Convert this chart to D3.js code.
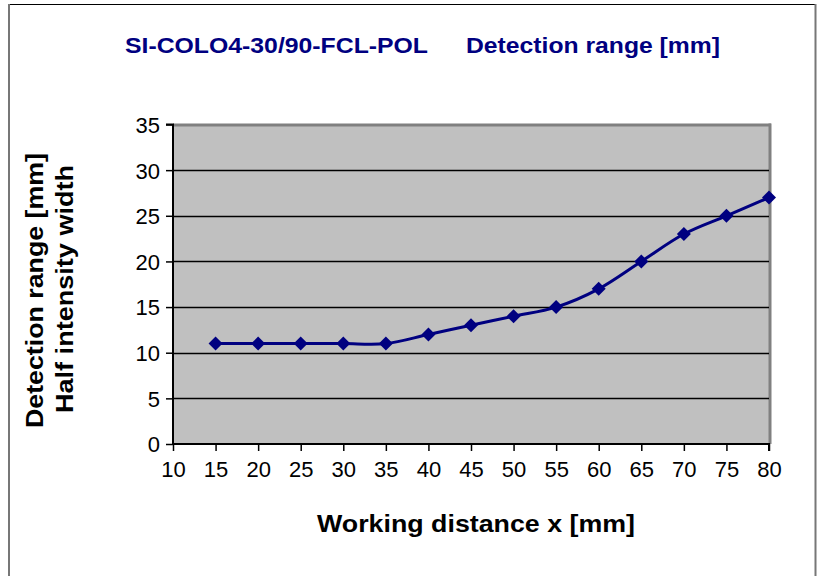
<!DOCTYPE html>
<html><head><meta charset="utf-8">
<script src="https://cdn.jsdelivr.net/npm/d3@7"></script>
<style>body{margin:0;background:#fff}svg{display:block;font-family:"Liberation Sans",Arial,sans-serif}</style>
</head><body><svg id="c" width="818" height="576"></svg>
<script>
const xValues = [15,20,25,30,35,40,45,50,55,60,65,70,75,80];
const yValues = [11,11,11,11,11,12,13,14,15,17,20,23,25,27];
const xTicks = [10,15,20,25,30,35,40,45,50,55,60,65,70,75,80];
const yTicks = [0,5,10,15,20,25,30,35];
const titleText = ["SI-COLO4-30/90-FCL-POL", "Detection range [mm]"];
const yTitle = ["Detection range [mm]", "Half intensity width"];
const xTitle = "Working distance x [mm]";

const svg = d3.select("#c");
const L=173,R=769,T=124.5,B=444;
const x = d3.scaleLinear().domain([10,80]).range([L,R]);
const y = d3.scaleLinear().domain([0,35]).range([B,T]);

// outer frame
svg.append("line").attr("x1",8).attr("x2",816).attr("y1",4.5).attr("y2",4.5).attr("stroke","#000").attr("stroke-width",1);
svg.append("line").attr("x1",9).attr("x2",9).attr("y1",4).attr("y2",576).attr("stroke","#777").attr("stroke-width",2);
svg.append("line").attr("x1",815.5).attr("x2",815.5).attr("y1",4).attr("y2",576).attr("stroke","#777").attr("stroke-width",2);

// plot area
svg.append("rect").attr("x",L).attr("y",T).attr("width",R-L).attr("height",B-T).attr("fill","#c0c0c0");
svg.append("line").attr("x1",L).attr("x2",R+2).attr("y1",T+0.5).attr("y2",T+0.5).attr("stroke","#808080").attr("stroke-width",3);
svg.append("line").attr("x1",R+1).attr("x2",R+1).attr("y1",T-1).attr("y2",B).attr("stroke","#808080").attr("stroke-width",3);

// grid
svg.append("g").selectAll("line").data(yTicks.filter(d=>d>0&&d<35)).join("line")
  .attr("x1",L).attr("x2",R).attr("y1",d=>Math.round(y(d))+0.5).attr("y2",d=>Math.round(y(d))+0.5)
  .attr("stroke","#000").attr("stroke-width",1.5);

// axes
const yAxis = d3.axisLeft(y).tickValues(yTicks).tickSize(7).tickPadding(6).tickFormat(d3.format("d"));
const gy = svg.append("g").attr("transform",`translate(${L},0)`).call(yAxis);
const xAxis = d3.axisBottom(x).tickValues(xTicks).tickSize(7).tickPadding(8).tickFormat(d3.format("d"));
const gx = svg.append("g").attr("transform",`translate(0,${B})`).call(xAxis);
[gy,gx].forEach(g=>{
  g.select(".domain").attr("stroke","#000").attr("stroke-width",2);
  g.selectAll(".tick line").attr("stroke","#000").attr("stroke-width",1.5);
  g.selectAll(".tick text").attr("fill","#000").style("font-size","22px").style("font-family","'Liberation Sans',Arial,sans-serif");
});
gy.select(".domain").attr("d",`M-7,${T}H0V${B}`);
gx.select(".domain").attr("d",`M${L},0H${R}V7`);
gx.selectAll(".tick text").attr("dy","0.82em");
gy.selectAll(".tick text").attr("dy","0.36em");

// line
const pts = xValues.map((v,i)=>[v,yValues[i]]);
const line = d3.line().x(d=>x(d[0])).y(d=>y(d[1])).curve(d3.curveCardinal.tension(0));
svg.append("path").datum(pts).attr("d",line).attr("fill","none").attr("stroke","#000080").attr("stroke-width",3);
svg.append("g").selectAll("path").data(pts).join("path")
  .attr("transform",d=>`translate(${x(d[0])},${y(d[1])})`)
  .attr("d","M0,-7L7,0L0,7L-7,0Z").attr("fill","#000080");

// titles
const tpos = [[125,303],[466,254]];
titleText.forEach((s,i)=>{
  svg.append("text").attr("x",tpos[i][0]).attr("y",52.5).attr("fill","#000080")
    .attr("textLength",tpos[i][1]).attr("lengthAdjust","spacingAndGlyphs")
    .style("font-size","22px").style("font-weight","bold").text(s);
});

const ypos = [[43,290.5,275],[73,289,248]];
yTitle.forEach((s,i)=>{
  svg.append("text").attr("transform",`translate(${ypos[i][0]},${ypos[i][1]}) rotate(-90)`).attr("text-anchor","middle")
    .attr("textLength",ypos[i][2]).attr("lengthAdjust","spacingAndGlyphs")
    .style("font-size","23px").style("font-weight","bold").attr("fill","#000").text(s);
});
svg.append("text").attr("x",476).attr("y",532).attr("text-anchor","middle")
  .attr("textLength",318).attr("lengthAdjust","spacingAndGlyphs")
  .style("font-size","23px").style("font-weight","bold").attr("fill","#000").text(xTitle);
</script></body></html>
